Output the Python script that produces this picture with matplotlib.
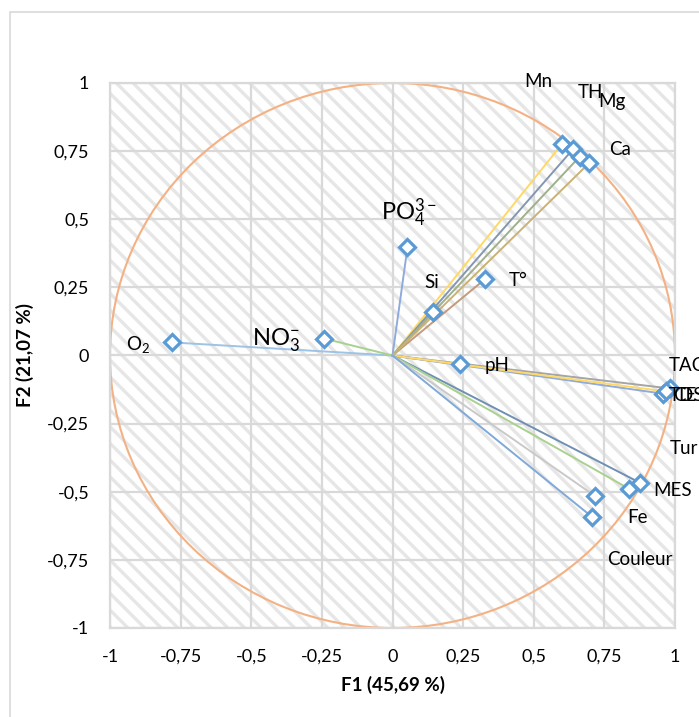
import numpy as np
import matplotlib
matplotlib.use("Agg")
import matplotlib.pyplot as plt
from matplotlib.patches import Rectangle, Ellipse

plt.rcParams['font.family'] = ['Lato', 'DejaVu Sans']
plt.rcParams['mathtext.fontset'] = 'custom'
plt.rcParams['mathtext.rm'] = 'Lato'
plt.rcParams['mathtext.it'] = 'Lato'
plt.rcParams['mathtext.default'] = 'regular'
plt.rcParams['hatch.color'] = '#e6e6e6'
plt.rcParams['hatch.linewidth'] = 2.4

#%% Data: correlations of variables with F1 / F2
variables = ['O$_2$', 'NO$_3^{-}$', 'PO$_4^{3-}$', 'Si', 'T°', 'pH',
             'Mn', 'TH', 'Mg', 'Ca', 'TAC', 'TDS', 'CE',
             'Tur', 'MES', 'Fe', 'Couleur']
f1 = [-0.780, -0.241, 0.053, 0.142, 0.326, 0.238,
      0.599, 0.638, 0.663, 0.695, 0.982, 0.957, 0.968,
      0.876, 0.837, 0.716, 0.706]
f2 = [0.048, 0.062, 0.397, 0.158, 0.279, -0.033,
      0.775, 0.756, 0.730, 0.705, -0.121, -0.140, -0.132,
      -0.467, -0.489, -0.515, -0.592]

line_colors = ['#9dc3e6', '#a9d18e', '#8faadc', '#f4b183', '#c39a7c', '#7f7f7f',
               '#ffd966', '#8497b0', '#9fb08a', '#c9b273', '#a5a5a5', '#8faadc', '#ffd966',
               '#6f8fb4', '#a9d18e', '#c9c9c9', '#7fa9d8']

# label positions (left edge, vertical centre) in data units
label_x = [-0.942, -0.496, -0.042, 0.113, 0.411, 0.326,
           0.467, 0.655, 0.729, 0.768, 0.977, 0.977, 0.995,
           0.981, 0.924, 0.832, 0.761]
label_y = [0.040, 0.059, 0.525, 0.268, 0.275, -0.037,
           1.006, 0.965, 0.932, 0.756, -0.037, -0.147, -0.147,
           -0.341, -0.495, -0.594, -0.749]
big_labels = {'NO$_3^{-}$', 'PO$_4^{3-}$'}

#%% Figure
W, H = 699, 717
fig = plt.figure(figsize=(W / 100, H / 100), dpi=100)
fig.patch.set_facecolor('white')

# chart border (runs past the right and bottom edges)
fig.patches.append(Rectangle((10 / W, -0.05), 1.2, 1 - 12 / H + 0.05,
                             transform=fig.transFigure, fill=False,
                             edgecolor='#d9d9d9', linewidth=1.2))

ax = fig.add_axes([110 / W, 89 / H, 565 / W, 545 / H])
ax.set_xlim(-1, 1)
ax.set_ylim(-1, 1)

# hatched plot area
ax.add_patch(Rectangle((-1, -1), 2, 2, facecolor='white', hatch='\\\\',
                       edgecolor='#e6e6e6', linewidth=0, zorder=0))

ticks = np.arange(-1, 1.01, 0.25)
tick_labels = ['-1', '-0,75', '-0,5', '-0,25', '0', '0,25', '0,5', '0,75', '1']
ax.set_xticks(ticks)
ax.set_xticklabels(tick_labels)
ax.set_yticks(ticks)
ax.set_yticklabels(tick_labels)
ax.tick_params(length=0, labelsize=13, colors='#000000')
ax.tick_params(axis='x', pad=15)
ax.tick_params(axis='y', pad=15)
ax.grid(True, color='#d9d9d9', linewidth=1.6, zorder=1)
ax.set_axisbelow(True)
for s in ax.spines.values():
    s.set_color('#d9d9d9')
    s.set_linewidth(1.6)

# correlation circle
ax.add_patch(Ellipse((0, 0), 2, 2, fill=False, edgecolor='#f4b183',
                     linewidth=1.5, zorder=2))

for i in range(len(variables)):
    ax.plot([0, f1[i]], [0, f2[i]], color=line_colors[i], linewidth=1.4,
            zorder=3)
for i in range(len(variables)):
    ax.plot(f1[i], f2[i], marker='D', markersize=8.5, markerfacecolor='white',
            markeredgecolor='#5b9bd5', markeredgewidth=2.3, zorder=4,
            clip_on=False)
    fs = 17 if variables[i] in big_labels else 13.5
    ax.text(label_x[i], label_y[i], variables[i], fontsize=fs, ha='left',
            va='center', zorder=5, clip_on=False)

ax.set_xlabel('F1 (45,69 %)', fontsize=13.5, fontweight='bold', labelpad=8)
ax.set_ylabel('F2 (21,07 %)', fontsize=13.5, fontweight='bold', labelpad=9)

fig.savefig('out.png', dpi=100)
